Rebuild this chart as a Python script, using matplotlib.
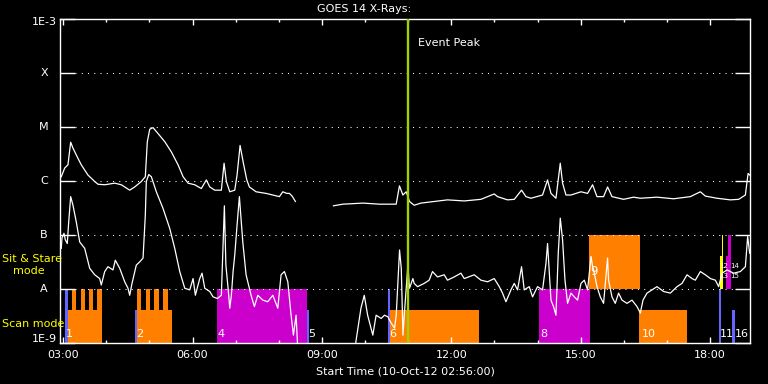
import numpy as np
import matplotlib
matplotlib.use('Agg')
import matplotlib.pyplot as plt
import matplotlib.transforms as mtransforms
from matplotlib.patches import Rectangle
from matplotlib.ticker import FixedLocator, NullLocator, NullFormatter

plt.rcParams['font.family'] = ['DejaVu Sans']

# GOES 14 light curves: (hours UT, log10 flux W/m^2)
long_pts = [
    (2.956, -5.92), (3.035, -5.76), (3.111, -5.70), (3.174, -5.28), (3.227, -5.39),
    (3.343, -5.58), (3.420, -5.70), (3.575, -5.89), (3.731, -6.01), (3.807, -6.06),
    (3.963, -6.07), (4.195, -6.04), (4.348, -6.07), (4.543, -6.17), (4.659, -6.11),
    (4.812, -6.01), (4.905, -5.92), (4.951, -5.27), (5.007, -5.04), (5.084, -5.01),
    (5.200, -5.12), (5.355, -5.27), (5.508, -5.46), (5.664, -5.70), (5.780, -5.92),
    (5.896, -6.04), (6.051, -6.07), (6.204, -6.14), (6.320, -5.98), (6.399, -6.11),
    (6.515, -6.17), (6.668, -6.17), (6.731, -5.67), (6.784, -6.01), (6.863, -6.20),
    (6.979, -6.17), (7.032, -5.89), (7.102, -5.34), (7.179, -5.67), (7.258, -5.98),
    (7.318, -6.11), (7.473, -6.20), (7.705, -6.23), (8.014, -6.29), (8.093, -6.20),
    (8.186, -6.23), (8.246, -6.23), (8.309, -6.28), (8.385, -6.38), (8.80, np.nan),
    (9.267, -6.46), (9.485, -6.43), (9.949, -6.41), (10.334, -6.43), (10.722, -6.43),
    (10.798, -6.09), (10.877, -6.26), (10.954, -6.20), (11.030, -6.38), (11.139, -6.45),
    (11.295, -6.41), (11.603, -6.38), (11.912, -6.35), (12.300, -6.37), (12.687, -6.34),
    (12.996, -6.24), (13.072, -6.29), (13.304, -6.35), (13.460, -6.34), (13.629, -6.17),
    (13.731, -6.29), (13.847, -6.32), (14.116, -6.26), (14.232, -5.98), (14.311, -6.23),
    (14.427, -6.32), (14.527, -5.67), (14.580, -6.04), (14.659, -6.26), (14.775, -6.26),
    (15.007, -6.20), (15.160, -6.23), (15.276, -6.07), (15.378, -6.29), (15.531, -6.29),
    (15.624, -6.11), (15.726, -6.29), (15.995, -6.34), (16.227, -6.30), (16.383, -6.32),
    (16.770, -6.30), (17.155, -6.33), (17.543, -6.29), (17.775, -6.20), (17.891, -6.28),
    (18.162, -6.32), (18.471, -6.35), (18.664, -6.34), (18.819, -6.26), (18.882, -5.86),
    (18.919, -5.89),
]

short_pts = [
    (2.956, -7.25), (2.972, -7.06), (3.019, -6.97), (3.049, -7.09), (3.095, -7.16),
    (3.128, -6.76), (3.174, -6.29), (3.227, -6.45), (3.304, -6.76), (3.383, -7.13),
    (3.499, -7.25), (3.615, -7.62), (3.731, -7.74), (3.847, -7.81), (3.884, -7.93),
    (3.963, -7.68), (4.039, -7.59), (4.155, -7.65), (4.209, -7.47), (4.311, -7.62),
    (4.427, -7.87), (4.503, -7.99), (4.543, -8.12), (4.596, -7.90), (4.696, -7.56),
    (4.775, -7.50), (4.852, -7.43), (4.905, -6.63), (4.928, -6.01), (4.984, -5.88),
    (5.044, -5.92), (5.160, -6.20), (5.316, -6.51), (5.471, -6.88), (5.587, -7.25),
    (5.703, -7.68), (5.819, -7.99), (5.935, -8.02), (6.012, -7.81), (6.065, -8.12),
    (6.167, -7.81), (6.220, -7.71), (6.283, -7.99), (6.399, -8.05), (6.476, -8.15),
    (6.575, -8.18), (6.668, -8.12), (6.738, -6.46), (6.773, -7.56), (6.824, -7.99),
    (6.863, -8.36), (6.900, -8.12), (6.940, -7.68), (6.979, -7.37), (7.032, -6.82),
    (7.086, -6.29), (7.165, -7.13), (7.241, -7.74), (7.357, -8.12), (7.434, -8.33),
    (7.513, -8.12), (7.629, -8.21), (7.745, -8.24), (7.861, -8.12), (7.977, -8.36),
    (8.053, -7.74), (8.130, -7.68), (8.209, -7.87), (8.285, -8.49), (8.339, -8.86),
    (8.401, -8.49), (8.450, -9.30), (9.760, -9.30), (9.788, -8.98), (9.905, -8.36),
    (9.982, -8.12), (10.060, -8.49), (10.180, -8.86), (10.257, -8.49), (10.373, -8.55),
    (10.450, -8.49), (10.530, -8.52), (10.585, -8.61), (10.684, -8.73), (10.723, -8.49),
    (10.800, -7.28), (10.840, -7.62), (10.879, -8.86), (10.916, -8.42), (10.993, -7.56),
    (11.031, -7.99), (11.109, -7.81), (11.139, -7.90), (11.216, -7.96), (11.371, -7.90),
    (11.487, -7.84), (11.564, -7.68), (11.680, -7.78), (11.835, -7.74), (11.912, -7.84),
    (12.067, -7.78), (12.223, -7.71), (12.300, -7.81), (12.532, -7.74), (12.687, -7.84),
    (12.841, -7.87), (12.996, -7.81), (13.112, -7.96), (13.188, -8.08), (13.267, -8.24),
    (13.383, -8.02), (13.460, -7.90), (13.536, -8.02), (13.629, -7.59), (13.691, -8.02),
    (13.807, -7.96), (13.884, -8.15), (14.000, -7.96), (14.116, -8.02), (14.195, -7.53),
    (14.232, -7.16), (14.311, -8.21), (14.371, -8.33), (14.427, -8.49), (14.480, -7.34),
    (14.527, -6.69), (14.580, -7.09), (14.636, -7.84), (14.696, -8.27), (14.775, -8.08),
    (14.852, -8.15), (14.928, -8.21), (15.007, -7.90), (15.084, -7.84), (15.160, -8.02),
    (15.240, -7.40), (15.276, -7.59), (15.300, -7.65), (15.378, -7.96), (15.455, -8.15),
    (15.531, -8.27), (15.624, -7.43), (15.647, -7.84), (15.726, -8.15), (15.802, -8.27),
    (15.879, -8.08), (15.958, -8.21), (16.074, -8.27), (16.190, -8.21), (16.306, -8.33),
    (16.383, -8.45), (16.445, -8.21), (16.538, -8.08), (16.654, -8.02), (16.770, -7.96),
    (16.923, -8.05), (17.079, -8.08), (17.234, -7.96), (17.350, -7.90), (17.466, -7.74),
    (17.582, -7.81), (17.659, -7.84), (17.775, -7.68), (17.891, -7.74), (18.007, -7.81),
    (18.123, -7.84), (18.200, -7.96), (18.278, -7.71), (18.394, -7.65), (18.548, -7.71),
    (18.703, -7.68), (18.819, -7.59), (18.872, -7.03), (18.919, -7.34),
]

# observing blocks
obs_start = [3.042, 3.104, 3.211, 3.413, 3.606, 3.791, 4.666, 4.705, 4.705, 4.914,
             5.114, 5.323, 6.562, 8.650, 10.529, 10.582, 14.039, 15.200, 16.360,
             18.200, 18.230, 18.277, 18.360, 18.420, 18.520]
obs_end = [3.104, 3.893, 3.297, 3.499, 3.691, 3.893, 4.705, 5.526, 4.812, 5.014,
           5.216, 5.431, 8.650, 8.710, 10.582, 12.647, 15.223, 16.383, 17.467,
           18.262, 18.290, 18.300, 18.480, 18.490, 18.580]
obs_mode = ['scan', 'scan', 'scan', 'scan', 'scan', 'scan', 'scan', 'scan', 'scan', 'scan',
            'scan', 'scan', 'scan', 'scan', 'scan', 'scan', 'scan', 'sns', 'scan',
            'scan', 'sns', 'sns', 'sns', 'sns', 'scan']
obs_full = [True, False, True, True, True, True, False, False, True, True,
            True, True, True, False, True, False, True, True, False,
            True, False, True, False, True, False]
obs_kind = ['blue', 'orange', 'orange', 'orange', 'orange', 'orange', 'blue', 'orange',
            'orange', 'orange', 'orange', 'orange', 'magenta', 'blue', 'blue', 'orange',
            'magenta', 'orange', 'orange', 'blue', 'yellow', 'yellow', 'magenta',
            'magenta', 'blue']

# block numbers in the scan band
scan_label = ['1', '2', '4', '5', '6', '8', '10', '11', '16']
scan_label_t = [3.065, 4.689, 6.585, 8.680, 10.560, 14.070, 16.420, 18.220, 18.565]
# block numbers in the sit & stare band (crowded ones get two small rows)
sns_label = ['9', '12', '13', '14', '15']
sns_label_t = [15.220, 18.215, 18.215, 18.470, 18.470]
sns_label_y = [-7.80, -7.64, -7.82, -7.64, -7.82]

event_peak = 11.0

kind_color = {'blue': '#6464ff', 'orange': '#ff8000', 'magenta': '#cc00cc', 'yellow': '#ffff00'}
band = {'scan': (1e-9, 10 ** -8.39, 1e-8), 'sns': (1e-8, 10 ** -7.39, 1e-7)}

fig = plt.figure(figsize=(7.68, 3.84), dpi=100, facecolor='black')
ax = fig.add_axes([60.3 / 768, 1 - 342.7 / 384, 690 / 768, 323.4 / 384])
ax.set_facecolor('black')
ax.set_yscale('log')
xmin, xmax = 2 + 56 / 60, 18 + 56 / 60
ax.set_xlim(xmin, xmax)
ax.set_ylim(1e-9, 1e-3)

for s, e, m, full, k in zip(obs_start, obs_end, obs_mode, obs_full, obs_kind):
    lo, mid, hi = band[m]
    top = hi if full else mid
    ax.add_patch(Rectangle((s, lo), e - s, top - lo, facecolor=kind_color[k], lw=0, zorder=1))

# dotted level lines
for lvl in [1e-8, 1e-7, 1e-6, 1e-5, 1e-4]:
    ax.plot([xmin + 0.35, xmax - 0.35], [lvl, lvl], color='white', lw=0.75,
            ls=(0, (1, 5)), zorder=2)

lt, lf = zip(*long_pts)
st, sf = zip(*short_pts)
ax.plot(lt, 10 ** np.array(lf), color='white', lw=0.9, zorder=3)
ax.plot(st, 10 ** np.array(sf), color='white', lw=0.9, zorder=3)

ax.axvline(event_peak, color='#a0d000', lw=1.7, zorder=4)
ax.annotate('Event Peak', (event_peak, 10 ** -3.44), xytext=(7, 0), textcoords='offset points',
            color='white', fontsize=8, va='center', ha='left', zorder=5)

for txt, t in zip(scan_label, scan_label_t):
    ax.text(t, 10 ** -8.93, txt, color='white', fontsize=8, ha='left', va='bottom', zorder=5)
for txt, t, y in zip(sns_label, sns_label_t, sns_label_y):
    ax.text(t, 10 ** y, txt, color='white', fontsize=8.5 if len(txt) == 1 else 5,
            ha='left', va='bottom', zorder=5)

# axes styling
for sp in ax.spines.values():
    sp.set_color('white')
    sp.set_linewidth(1.0)

ax.yaxis.set_major_locator(FixedLocator([1e-9, 1e-8, 1e-7, 1e-6, 1e-5, 1e-4, 1e-3]))
ax.yaxis.set_minor_locator(NullLocator())
ax.yaxis.set_major_formatter(NullFormatter())
ax.tick_params(axis='y', which='major', direction='in', length=10.8, width=1.0,
               color='white', left=True, right=True, labelleft=False)

ax.xaxis.set_major_locator(FixedLocator([3, 6, 9, 12, 15, 18]))
ax.xaxis.set_minor_locator(FixedLocator([h for h in range(3, 19) if h % 3 != 0]))
ax.set_xticklabels(['03:00', '06:00', '09:00', '12:00', '15:00', '18:00'])
ax.tick_params(axis='x', which='major', direction='in', length=4.5, width=1.0,
               color='white', top=True, bottom=True, labelcolor='white', labelsize=8, pad=5)
ax.tick_params(axis='x', which='minor', direction='in', length=2.5, width=1.0,
               color='white', top=True, bottom=True)

# y level labels
trans = mtransforms.blended_transform_factory(ax.transAxes, ax.transData)
for lvl, name in zip([1e-8, 1e-7, 1e-6, 1e-5, 1e-4], ['A', 'B', 'C', 'M', 'X']):
    ax.text(-0.0236, lvl, name, color='white', fontsize=8, ha='center', va='center',
            transform=trans)
ax.text(-0.005, 10 ** -3.05, '1E-3', color='white', fontsize=8, ha='right', va='center',
        transform=trans)
ax.text(-0.005, 10 ** -8.94, '1E-9', color='white', fontsize=8, ha='right', va='center',
        transform=trans)

fig.text(2 / 768, 1 - 259 / 384, 'Sit & Stare', color='#ffff00', fontsize=8, ha='left', va='center')
fig.text(13 / 768, 1 - 271 / 384, 'mode', color='#ffff00', fontsize=8, ha='left', va='center')
fig.text(2 / 768, 1 - 324 / 384, 'Scan mode', color='#ffff00', fontsize=8, ha='left', va='center')

fig.text(364 / 768, 1 - 9 / 384, 'GOES 14 X-Rays:', color='white', fontsize=8, ha='center', va='center')
fig.text(405 / 768, 1 - 371 / 384, 'Start Time (10-Oct-12 02:56:00)', color='white', fontsize=8,
         ha='center', va='center')

fig.savefig('out.png', dpi=100, facecolor='black')
